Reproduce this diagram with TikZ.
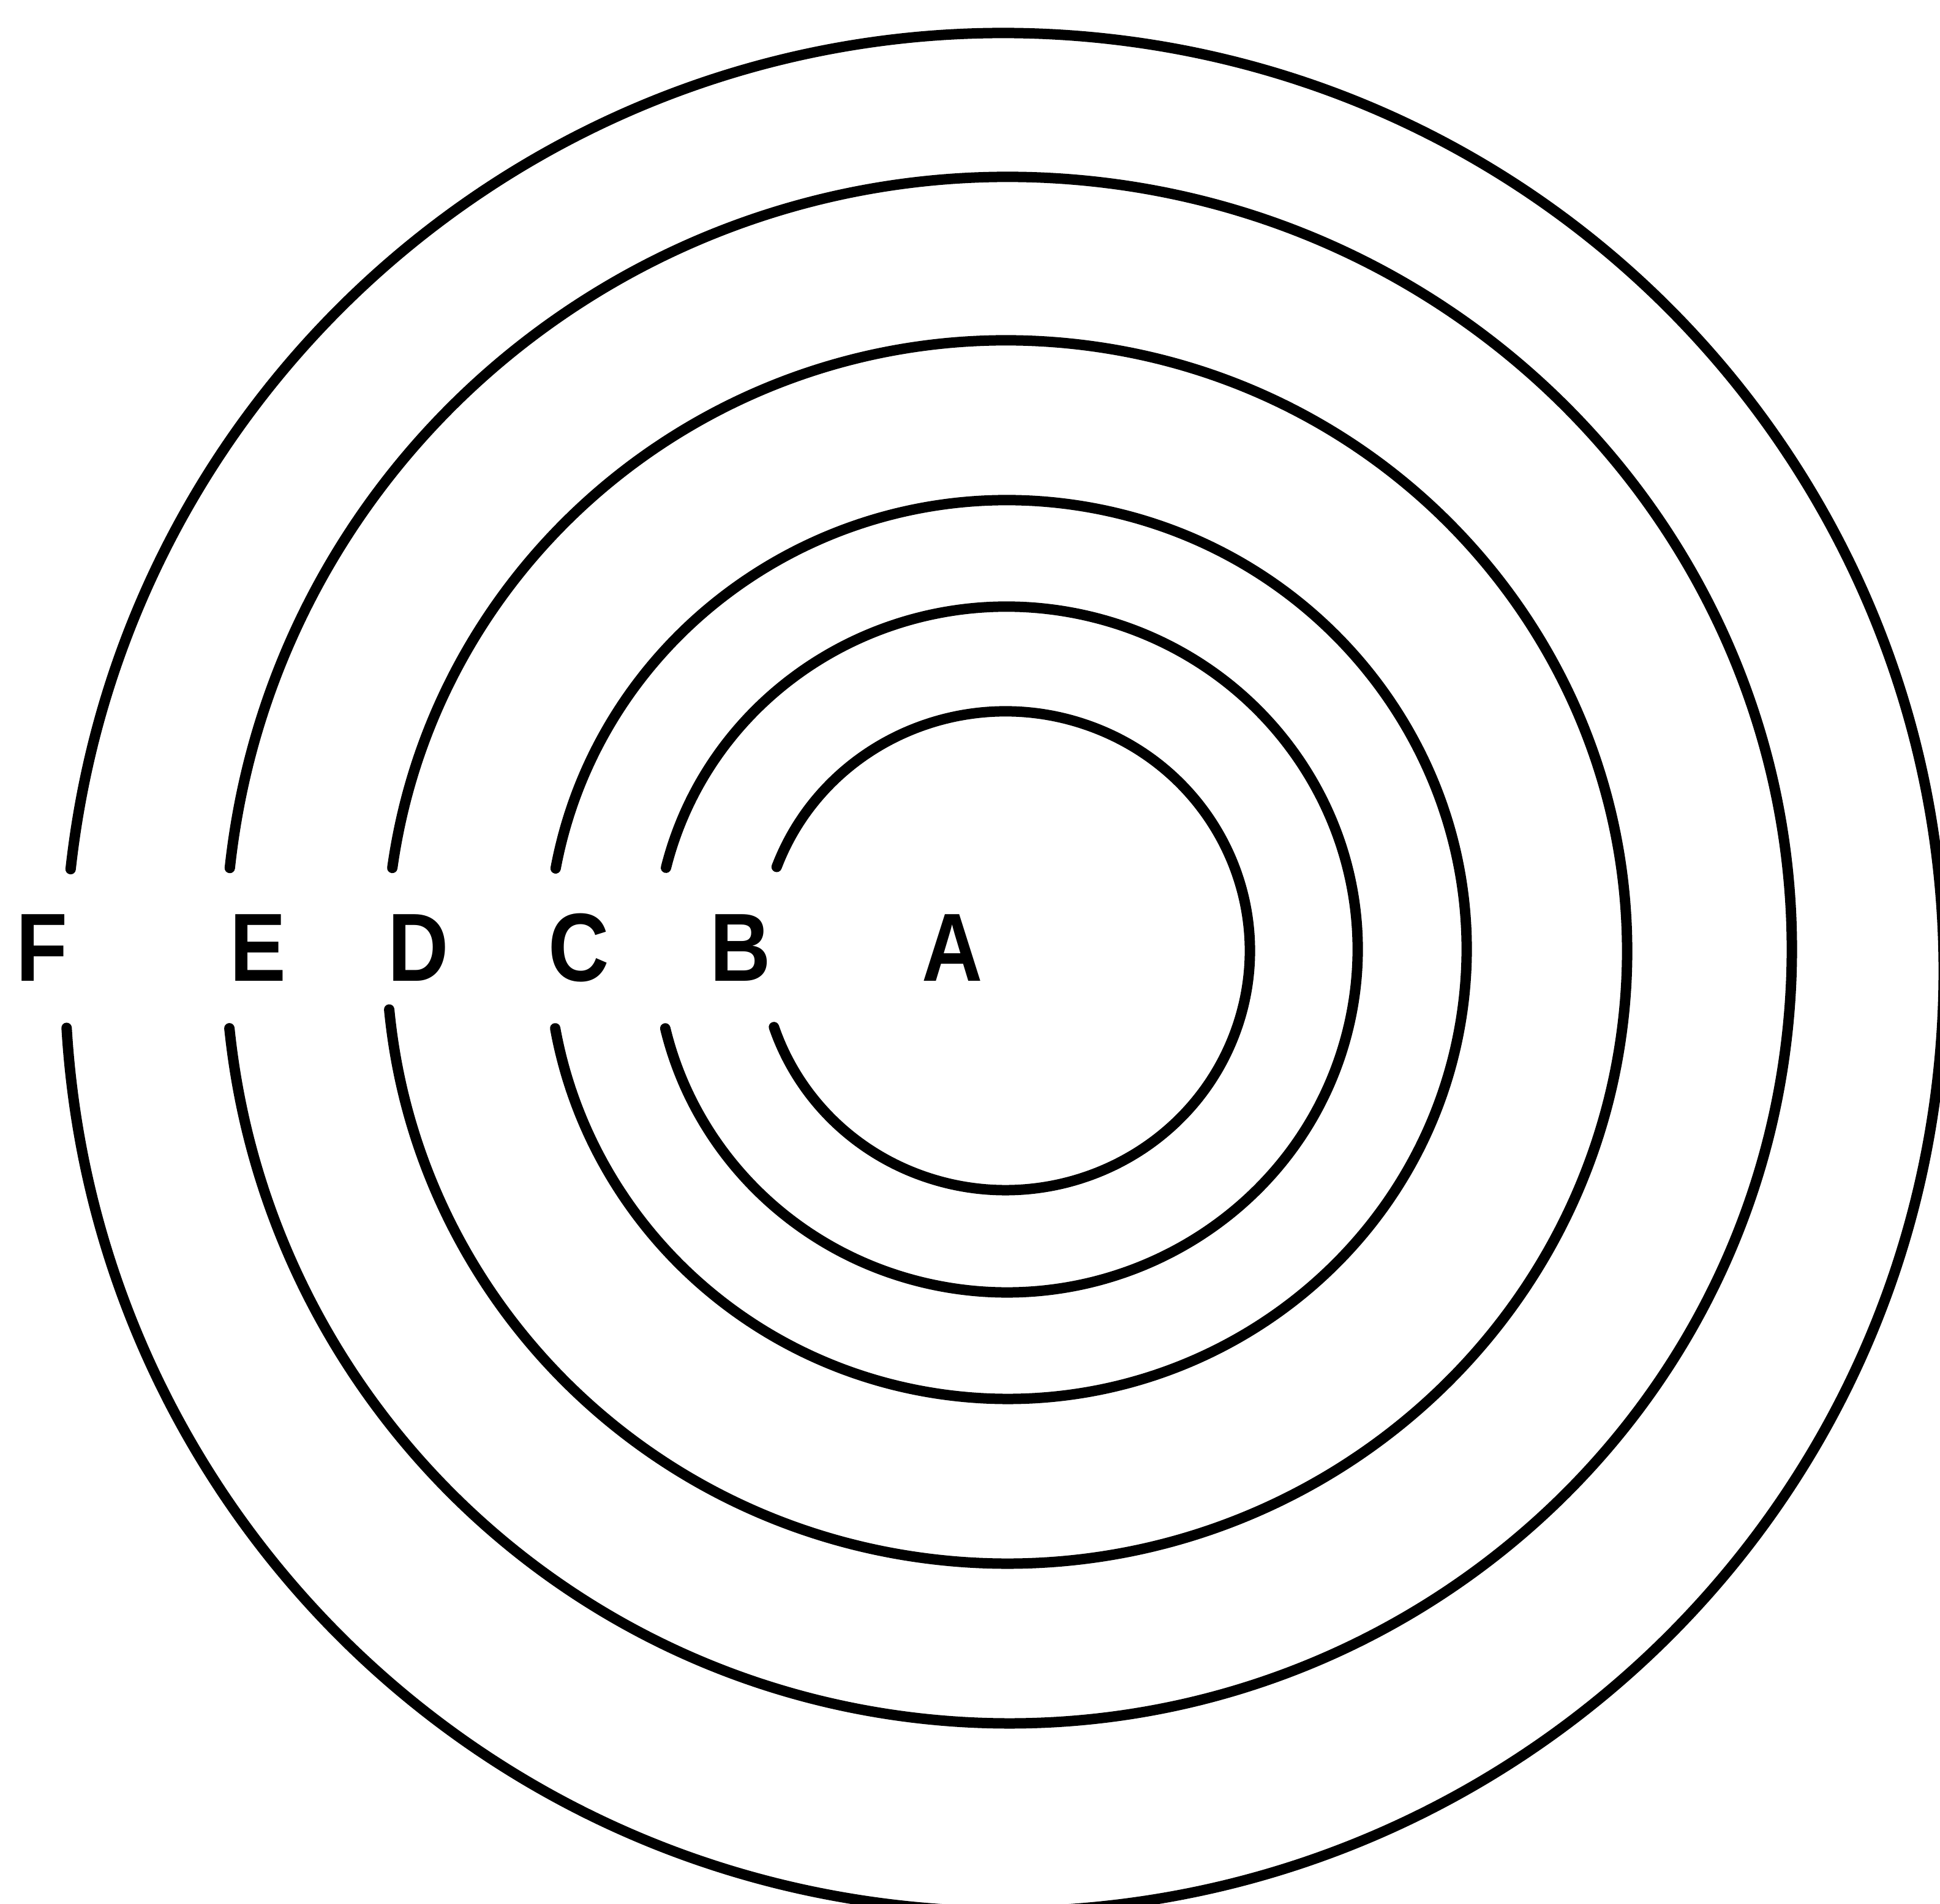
\documentclass[tikz,border=0pt]{standalone}
\usepackage{fontspec}
\setmainfont{Liberation Sans}[FakeStretch=0.87]
\usetikzlibrary{positioning}

\begin{document}
\begin{tikzpicture}[ring/.style={line width=0.17cm,line cap=round},
  ringlbl/.style={anchor=base,inner sep=0pt,font=\fontsize{45}{54}\selectfont\bfseries}]
\useasboundingbox (0,0) rectangle (31.68,31.10);
\clip (0,0) rectangle (31.68,31.10);
% ring centres
\coordinate (cA) at (16.42,15.57);
\coordinate (cB) at (16.44,15.59);
\coordinate (cC) at (16.45,15.59);
\coordinate (cD) at (16.44,15.55);
\coordinate (cE) at (16.47,15.58);
\coordinate (cF) at (16.40,15.22);
% rings, open on the left for the letters
\draw[ring] (cA) ++(159.5:3.99 and 3.91) arc[start angle=159.5,end angle=-161.4,x radius=3.99,y radius=3.91];
\draw[ring] (cB) ++(166.2:5.73 and 5.60) arc[start angle=166.2,end angle=-166.7,x radius=5.73,y radius=5.60];
\draw[ring] (cC) ++(169.6:7.50 and 7.34) arc[start angle=169.6,end angle=-169.9,x radius=7.50,y radius=7.34];
\draw[ring] (cD) ++(172.1:10.13 and 9.99) arc[start angle=172.1,end angle=-174.6,x radius=10.13,y radius=9.99];
\draw[ring] (cE) ++(173.9:12.79 and 12.63) arc[start angle=173.9,end angle=-174.2,x radius=12.79,y radius=12.63];
\draw[ring] (cF) ++(173.7:15.34) arc[start angle=173.7,end angle=-176.6,radius=15.34];
% letters
\node[ringlbl] (lA) at (15.55,15.07) {A};
\node[ringlbl] (lB) at (12.09,15.07) {B};
\node[ringlbl] (lC) at (9.45,15.07) {C};
\node[ringlbl] (lD) at (6.83,15.07) {D};
\node[ringlbl] (lE) at (4.21,15.07) {E};
\node[ringlbl] (lF) at (0.69,15.07) {F};
\end{tikzpicture}
\end{document}
